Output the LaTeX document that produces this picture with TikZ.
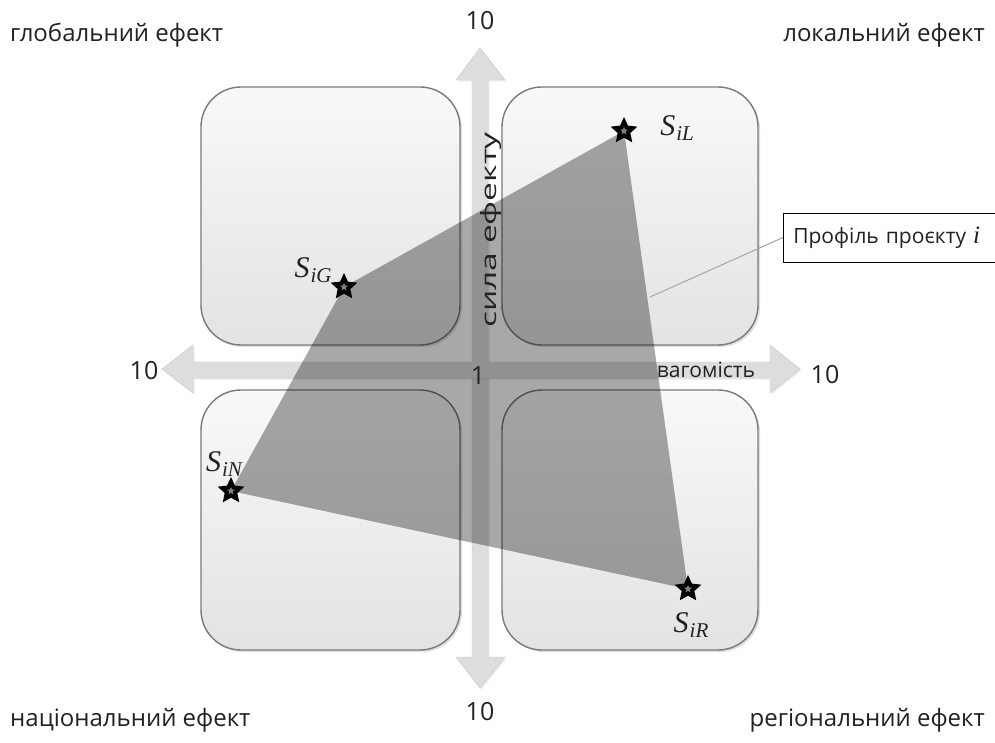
\documentclass[tikz,border=0pt]{standalone}
\usepackage{fontspec}
\setmainfont{Open Sans}
\newfontfamily\serifit{Liberation Serif}
\usetikzlibrary{shapes.geometric,shadows,calc}
\definecolor{txt}{HTML}{222222}
\definecolor{arrowfill}{HTML}{DDDDDD}
\definecolor{boxedge}{HTML}{7A7A7A}
\newcommand{\slab}[2]{{\serifit\itshape\fontsize{30}{32}\selectfont #1\kern1pt\raisebox{-5pt}{\fontsize{21}{22}\selectfont #2}}}
\tikzset{
  quad/.style={draw=boxedge, line width=1.4pt, rounded corners=40pt, top color=gray!5, bottom color=gray!22,
    drop shadow={opacity=0.25, shadow xshift=2pt, shadow yshift=-2pt}},
  blockarrow/.style={fill=arrowfill, draw=gray!45, line width=0.4pt,
    drop shadow={opacity=0.15, shadow xshift=1.5pt, shadow yshift=-1.5pt}},
  lbl/.style={text=txt, font=\fontsize{24}{28}\selectfont, inner sep=0pt},
  axlbl/.style={text=txt, font=\fontsize{21}{25}\selectfont, inner sep=0pt},
  num/.style={text=txt, font=\fontsize{25}{29}\selectfont, inner sep=0pt},
  mstar/.style={star, star points=5, star point ratio=2.1, fill=black, minimum size=28pt, inner sep=0pt},
  istar/.style={star, star points=5, star point ratio=2.1, fill=gray, minimum size=8pt, inner sep=0pt},
  slabel/.style={text=txt, inner sep=0pt},
}
\begin{document}
\begin{tikzpicture}[x=1pt,y=-1pt]
\useasboundingbox (0,0) rectangle (995,743);
\fill[white] (0,0) rectangle (995,743);
% quadrant boxes
\path[quad] (201,87) rectangle (460,345);
\path[quad] (502,87) rectangle (758,345);
\path[quad] (201,390) rectangle (460,650);
\path[quad] (502,390) rectangle (758,650);
% vertical double arrow
\path[blockarrow] (480,48) -- (505,80) -- (488,80) -- (488,657) -- (505,657) -- (480,688)
  -- (456,657) -- (472,657) -- (472,80) -- (456,80) -- cycle;
% horizontal double arrow
\path[blockarrow] (162,369) -- (193,345) -- (193,362) -- (770,362) -- (770,345) -- (800,369)
  -- (770,393) -- (770,378) -- (193,378) -- (193,393) -- cycle;
\fill[arrowfill] (472,362) rectangle (488,378);
% profile polygon
\coordinate (G) at (344,287);
\coordinate (L) at (624,131);
\coordinate (R) at (688,589);
\coordinate (N) at (231,491);
\fill[black, opacity=0.34] (G) -- (L) -- (R) -- (N) -- cycle;
% stars
\foreach \p in {G,L,R,N}{
  \node[mstar] at (\p) {};
  \node[istar] at (\p) {};
}
% star labels
\node[slabel] (lL) at (677,128) {\slab{S}{iL}};
\node[slabel] (lG) at (313,270) {\slab{S}{iG}};
\node[slabel] (lN) at (224,464) {\slab{S}{iN}};
\node[slabel] (lR) at (691,625) {\slab{S}{iR}};
% callout
\node[draw=black, line width=0.6pt, fill=white, anchor=west, minimum height=49pt, minimum width=270pt,
  inner xsep=10pt, text=txt, align=left, text width=250pt,
  font=\fontsize{21}{25}\selectfont] (call) at (783,237.5) {Профіль проєкту {\serifit\itshape\fontsize{25}{27}\selectfont i}};
\coordinate (tipc) at (650,297);
\draw[gray!70, line width=1pt] (tipc) -- (call.west);
% axis labels
\node[num] (t10) at (480,21) {10};
\node[num] (b10) at (480,712) {10};
\node[num] (l10) at (144,371) {10};
\node[num] (r10) at (825,375) {10};
\node[num] (one) at (478,376) {1};
\node[axlbl] (vag) at (706,370) {вагомість};
\node[axlbl, rotate=90] (sila) at (491,230) {\scalebox{1.6}[1]{сила ефекту}};
% corner labels
\node[lbl, anchor=west] (glob) at (10,35) {глобальний ефект};
\node[lbl, anchor=east] (lok) at (985,35) {локальний ефект};
\node[lbl, anchor=west] (nat) at (10,720) {національний ефект};
\node[lbl, anchor=east] (reg) at (985,720) {регіональний ефект};
\end{tikzpicture}
\end{document}
